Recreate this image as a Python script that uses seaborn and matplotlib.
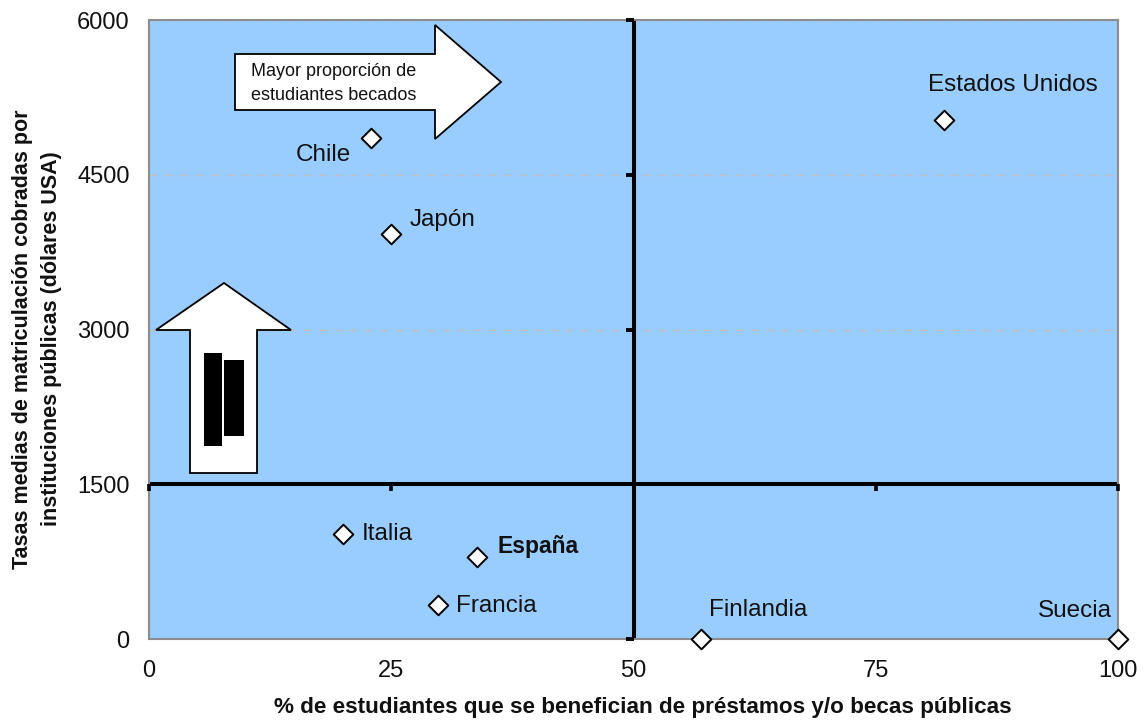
import matplotlib
matplotlib.use("Agg")
import matplotlib.pyplot as plt
import pandas as pd
import seaborn as sns
from matplotlib.patches import Polygon, Rectangle
from matplotlib.transforms import Affine2D

# Values
countries = ["Chile", "Japón", "Estados Unidos", "Italia", "España", "Francia", "Finlandia", "Suecia"]
pct_students = [22.9, 25, 82, 20, 33.9, 29.8, 57, 100]
fees = [4860, 3930, 5030, 1020, 790, 330, 0, 0]
x_ticks = [0, 25, 50, 75, 100]
y_ticks = [0, 1500, 3000, 4500, 6000]

# Label offsets from the marker, in pixels (x right, y up)
label_offsets = [(-48, -17), (51, 14), (69, 35), (44, 0), (61, 11), (59, -1), (57, 29), (-43, 28)]

W, H = 1145, 724
sns.set_theme(style="white")
plt.rcParams["font.family"] = ["Liberation Sans", "DejaVu Sans"]

df = pd.DataFrame({"x": pct_students, "y": fees, "name": countries})

fig = plt.figure(figsize=(W / 100, H / 100), dpi=100)
ax = fig.add_axes([149 / W, 1 - 639 / H, 969 / W, 619 / H])
ax.set_facecolor("#99ccff")

# image pixels -> display, for the drawn shapes
px = Affine2D().scale(1, -1).translate(0, H)

# quadrant lines
ax.axvline(50, color="black", lw=2.9, zorder=2)
ax.axhline(1500, color="black", lw=2.9, zorder=2)

sns.scatterplot(data=df, x="x", y="y", ax=ax, marker="D", s=100, color="white",
                edgecolor="black", linewidth=1.4, clip_on=False, zorder=5, legend=False)

ax.set_xlim(0, 100)
ax.set_ylim(0, 6000)
ax.set_xticks(x_ticks)
ax.set_yticks(y_ticks)
ax.tick_params(axis="both", length=0, labelsize=17, colors="#111111")
ax.tick_params(axis="x", pad=15)
ax.tick_params(axis="y", pad=14)
ax.set_xlabel("")
ax.set_ylabel("")
for s in ax.spines.values():
    s.set_color("#8c8c8c")
    s.set_linewidth(1.5)

ax.yaxis.grid(True, color="#c0c0c0", linestyle=(0, (5.8, 5.3)), linewidth=1.0)
ax.set_axisbelow(True)
for gl in ax.get_ygridlines():
    gl.set_snap(True)

# ticks on the crossing lines
sec_x = ax.secondary_xaxis(1500 / 6000)
sec_x.set_xticks(x_ticks, labels=[])
sec_x.tick_params(length=5, width=2.6, color="black", direction="out")
sec_x.spines["bottom"].set_visible(False)
sec_x.set_zorder(3)
sec_y = ax.secondary_yaxis(0.5)
sec_y.set_yticks(y_ticks, labels=[])
sec_y.tick_params(length=6, width=2.8, color="black", direction="in")
for s in sec_y.spines.values():
    s.set_visible(False)
sec_y.set_zorder(3)

for i, row in df.iterrows():
    bold = row["name"] == "España"
    ax.annotate(row["name"], (row["x"], row["y"]), xytext=label_offsets[i], textcoords="offset pixels",
                ha="center", va="center", fontsize=16.5 if bold else 17.5,
                fontweight="bold" if bold else "normal", color="#111111", zorder=6)

# block arrows
right_arrow = [(235, 54), (435, 54), (435, 25), (501, 82), (435, 139), (435, 110), (235, 110)]
up_arrow = [(156, 330), (224, 283), (291, 330), (257, 330), (257, 473), (190, 473), (190, 330)]
for pts in (right_arrow, up_arrow):
    ax.add_patch(Polygon(pts, closed=True, facecolor="white", edgecolor="black", lw=1.3,
                         transform=px, zorder=4, clip_on=False))
for x0, y0, w, h in [(204, 353, 18, 93), (224, 360, 20, 76)]:
    ax.add_patch(Rectangle((x0, y0), w, h, facecolor="black", edgecolor="none",
                           transform=px, zorder=5, clip_on=False))

fig.text(334 / W, 1 - 71 / H, "Mayor proporción de", ha="center", va="center", fontsize=13, color="#111111", zorder=7)
fig.text(334 / W, 1 - 95 / H, "estudiantes becados", ha="center", va="center", fontsize=13, color="#111111", zorder=7)

fig.text(643 / W, 1 - 707 / H, "% de estudiantes que se benefician de préstamos y/o becas públicas",
         ha="center", va="center", fontsize=16.2, fontweight="bold", color="#111111")
fig.text(37 / W, 1 - 339 / H, "Tasas medias de matriculación cobradas por\ninstituciones públicas (dólares USA)",
         ha="center", va="center", rotation=90, fontsize=15.5, fontweight="bold", color="#111111",
         linespacing=1.55)

fig.savefig("out.png", dpi=100)
